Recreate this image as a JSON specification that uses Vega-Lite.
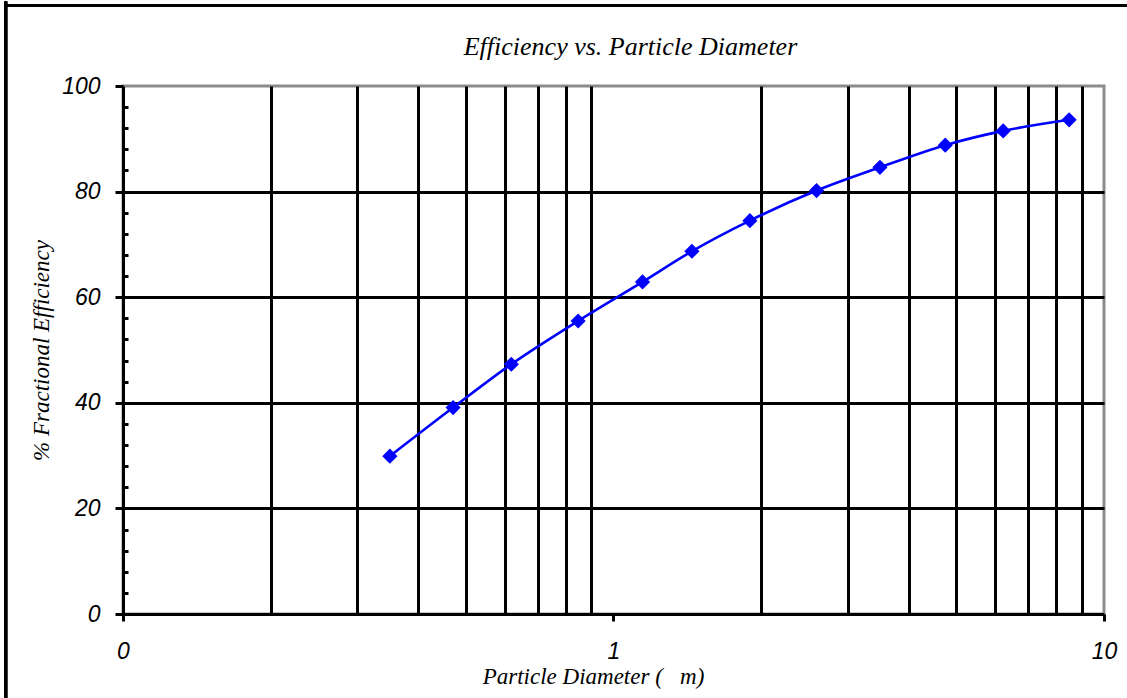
{
  "$schema": "https://vega.github.io/schema/vega-lite/v6.json",
  "width": 981,
  "height": 528,
  "autosize": {"type": "none"},
  "padding": {"left": 123, "top": 86, "right": 23, "bottom": 84},
  "background": "white",
  "title": {
    "text": "Efficiency vs. Particle Diameter",
    "font": "Liberation Serif",
    "fontStyle": "italic",
    "fontWeight": "normal",
    "fontSize": 26,
    "color": "black",
    "anchor": "middle",
    "dx": 17,
    "baseline": "alphabetic",
    "offset": -81
  },
  "config": {
    "view": {"stroke": "#8c8c8c", "strokeWidth": 3},
    "axis": {
      "domainColor": "black",
      "domainWidth": 3,
      "tickColor": "black",
      "tickWidth": 3,
      "gridColor": "black",
      "gridWidth": 3,
      "gridOpacity": 1,
      "labelColor": "black",
      "labelFont": "Liberation Sans",
      "labelFontStyle": "italic",
      "labelFontSize": 23,
      "labelFlush": false,
      "labelOverlap": false,
      "labelBound": false,
      "titleColor": "black",
      "titleFont": "Liberation Serif",
      "titleFontStyle": "italic",
      "titleFontWeight": "normal",
      "titleFontSize": 23
    }
  },
  "data": {
    "values": [
      {"d": 0.350, "eff": 29.9},
      {"d": 0.471, "eff": 39.1},
      {"d": 0.619, "eff": 47.3},
      {"d": 0.847, "eff": 55.5},
      {"d": 1.146, "eff": 62.9},
      {"d": 1.445, "eff": 68.7},
      {"d": 1.897, "eff": 74.5},
      {"d": 2.594, "eff": 80.2},
      {"d": 3.493, "eff": 84.6},
      {"d": 4.746, "eff": 88.8},
      {"d": 6.23, "eff": 91.5},
      {"d": 8.49, "eff": 93.6}
    ]
  },
  "resolve": {"axis": {"x": "independent", "y": "independent"}},
  "layer": [
    {
      "mark": {"type": "line", "color": "#0000ff", "strokeWidth": 2.6, "interpolate": "monotone"},
      "encoding": {
        "x": {
          "field": "d", "type": "quantitative",
          "scale": {"type": "log", "domain": [0.1, 10], "nice": false},
          "axis": {"orient": "bottom", "values": [0.2, 0.3, 0.4, 0.5, 0.6, 0.7, 0.8, 0.9, 2, 3, 4, 5, 6, 7, 8, 9], "grid": true, "labels": false, "ticks": false, "domain": false, "title": null}
        },
        "y": {
          "field": "eff", "type": "quantitative",
          "scale": {"domain": [0, 100], "nice": false, "zero": false},
          "axis": {"orient": "left", "values": [20, 40, 60, 80], "grid": true, "labels": false, "ticks": false, "domain": false, "title": null}
        }
      }
    },
    {
      "mark": {"type": "point", "shape": "diamond", "filled": true, "color": "#0000ff", "size": 230, "opacity": 1},
      "encoding": {
        "x": {
          "field": "d", "type": "quantitative",
          "scale": {"type": "log", "domain": [0.1, 10], "nice": false},
          "axis": {
            "orient": "bottom", "values": [0.1, 1, 10], "format": "~g",
            "labelExpr": "datum.value < 0.5 ? '0' : datum.label",
            "grid": false, "tickSize": 7, "labelPadding": 19,
            "title": "Particle Diameter (\u00a0\u00a0\u00a0m)",
            "titleX": 470, "titleY": 69, "titleAlign": "center", "titleBaseline": "alphabetic"
          }
        },
        "y": {
          "field": "eff", "type": "quantitative",
          "scale": {"domain": [0, 100], "nice": false, "zero": false},
          "axis": {
            "orient": "left", "values": [0, 20, 40, 60, 80, 100], "grid": false,
            "tickSize": 8, "labelPadding": 15,
            "title": "% Fractional Efficiency", "titlePadding": 8
          }
        }
      }
    },
    {
      "mark": {"type": "rule", "color": "black", "strokeWidth": 2.5, "clip": false},
      "encoding": {
        "x": {"datum": 0.0577, "type": "quantitative", "scale": {"type": "log", "domain": [0.1, 10], "nice": false}, "axis": null},
        "x2": {"datum": 30},
        "y": {
          "datum": 115.2, "type": "quantitative",
          "scale": {"domain": [0, 100], "nice": false, "zero": false},
          "axis": {"orient": "left", "values": [4, 8, 12, 16, 24, 28, 32, 36, 44, 48, 52, 56, 64, 68, 72, 76, 84, 88, 92, 96], "grid": false, "labels": false, "domain": false, "tickSize": -5, "title": null}
        }
      }
    },
    {
      "mark": {"type": "rule", "color": "black", "strokeWidth": 2.5, "clip": false},
      "encoding": {
        "x": {"datum": 0.0577, "type": "quantitative", "scale": {"type": "log", "domain": [0.1, 10], "nice": false}, "axis": null},
        "y": {"datum": -30, "type": "quantitative", "scale": {"domain": [0, 100], "nice": false, "zero": false}, "axis": null},
        "y2": {"datum": 116}
      }
    }
  ]
}
